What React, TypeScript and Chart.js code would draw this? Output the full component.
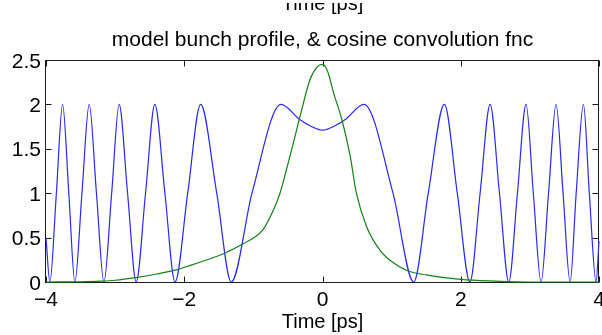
import React, { useEffect, useRef } from "react";
import { Chart, registerables } from "chart.js";

Chart.register(...registerables);

// Cosine convolution function: time [ps] and value
const convTime = [
  -4.0, -3.944, -3.85, -3.76, -3.67, -3.582, -3.48, -3.375, -3.27, -3.162, -3.05, -2.942, -2.82, -2.695,
  -2.56, -2.425, -2.28, -2.133, -1.95, -1.763, -1.53, -1.32, -1.02, -0.6, -0.33, -0.18, 0,
  0.18, 0.33, 0.6, 1.02, 1.32, 1.53, 1.763, 1.95, 2.133, 2.28, 2.425, 2.56, 2.695, 2.82, 2.945,
  3.05, 3.162, 3.27, 3.379, 3.48, 3.582, 3.67, 3.775, 3.86, 3.958, 4.0,
];
const convValue = [
  0.5, 0, 1, 2, 1, 0, 1, 2, 1, 0, 1, 2, 1, 0,
  1, 2, 1, 0, 1, 2, 1, 0, 1, 2, 1.83, 1.76, 1.71,
  1.76, 1.83, 2, 1, 0, 1, 2, 1, 0, 1, 2, 1, 0, 1, 2,
  1, 0, 1, 2, 1, 0, 1, 2, 1, 0, 0.46,
];

// Model bunch profile: time [ps] and value
const bunchTime = [
  -4.0, -3.5, -3.2, -3.0, -2.7, -2.4, -2.1, -1.9, -1.6, -1.4, -1.15, -0.86, -0.71, -0.615,
  -0.52, -0.42, -0.33, -0.18, -0.08, 0, 0.08, 0.16, 0.28, 0.4, 0.49, 0.64, 0.83, 1.0, 1.22,
  1.5, 2.0, 2.5, 3.0, 4.0,
];
const bunchValue = [
  0, 0.003, 0.01, 0.02, 0.05, 0.09, 0.14, 0.19, 0.27, 0.33, 0.43, 0.59, 0.81, 1.0,
  1.27, 1.57, 1.85, 2.28, 2.42, 2.45, 2.36, 2.13, 1.83, 1.42, 1.0, 0.62, 0.36, 0.23, 0.13,
  0.08, 0.03, 0.01, 0, 0,
];

const xTicks = [-4, -2, 0, 2, 4];
const yTicks = [0, 0.5, 1, 1.5, 2, 2.5];

const titleText = "model bunch profile, & cosine convolution fnc";
const xLabelText = "Time [ps]";

const FONT = "'Liberation Sans', Arial, sans-serif";

const fmt = (v: number) => (v < 0 ? "\u2212" + String(-v) : String(v));

const frame = {
  id: "frame",
  beforeDatasetsDraw(chart: any) {
    const { ctx, chartArea: a } = chart;
    const xs = chart.scales.x;
    const ys = chart.scales.y;
    ctx.save();
    ctx.strokeStyle = "#1a1a1a";
    ctx.lineWidth = 1;
    const L = Math.round(a.left) - 0.5;
    const R = Math.round(a.right) - 0.5;
    const T = Math.round(a.top) + 0.5;
    const B = Math.round(a.bottom) + 0.5;
    ctx.strokeRect(L, T, R - L, B - T);
    ctx.beginPath();
    for (const v of xTicks) {
      const px = Math.round(xs.getPixelForValue(v)) + 0.5;
      ctx.moveTo(px, B);
      ctx.lineTo(px, B - 6);
      ctx.moveTo(px, T);
      ctx.lineTo(px, T + 6);
    }
    for (const v of yTicks) {
      const py = Math.round(ys.getPixelForValue(v)) + 0.5;
      ctx.moveTo(L, py);
      ctx.lineTo(L + 6, py);
      ctx.moveTo(R, py);
      ctx.lineTo(R - 6, py);
    }
    ctx.stroke();

    ctx.fillStyle = "#000";
    ctx.font = `21px ${FONT}`;
    ctx.textBaseline = "alphabetic";
    ctx.textAlign = "center";
    for (const v of xTicks) {
      ctx.fillText(fmt(v), xs.getPixelForValue(v), 306);
    }
    ctx.textAlign = "right";
    for (const v of yTicks) {
      ctx.fillText(fmt(v), a.left - 5, ys.getPixelForValue(v) + 7.5);
    }

    const cx = (a.left + a.right) / 2;
    ctx.textAlign = "center";
    ctx.font = `21px ${FONT}`;
    ctx.fillText(titleText, cx, 46);
    ctx.font = `20px ${FONT}`;
    ctx.fillText(xLabelText, cx, 328);

    // axis label of the panel above, cut off by the figure edge
    ctx.save();
    ctx.beginPath();
    ctx.rect(0, 3, chart.width, 20);
    ctx.clip();
    ctx.fillText(xLabelText, cx, 10);
    ctx.restore();

    ctx.restore();
  },
};

export default function App() {
  const ref = useRef<HTMLCanvasElement | null>(null);

  useEffect(() => {
    const canvas = ref.current;
    if (!canvas) return;
    const chart = new Chart(canvas, {
      type: "line",
      data: {
        datasets: [
          {
            label: "bunch profile",
            data: bunchTime.map((t, i) => ({ x: t, y: bunchValue[i] })),
            borderColor: "rgb(20,130,20)",
            borderWidth: 1.2,
            pointRadius: 0,
            cubicInterpolationMode: "monotone",
            clip: false as any,
            order: 0,
          },
          {
            label: "cosine convolution fnc",
            data: convTime.map((t, i) => ({ x: t, y: convValue[i] })),
            borderColor: "rgb(40,40,255)",
            borderWidth: 1.2,
            pointRadius: 0,
            cubicInterpolationMode: "monotone",
            clip: false as any,
            order: 1,
          },
        ],
      },
      options: {
        animation: false,
        responsive: false,
        devicePixelRatio: 1,
        events: [],
        layout: { padding: { top: 60, right: 3, left: 0, bottom: 0 } },
        plugins: { legend: { display: false }, tooltip: { enabled: false }, title: { display: false } },
        scales: {
          x: {
            type: "linear",
            min: -4,
            max: 4,
            grid: { display: false },
            border: { display: false },
            ticks: { display: false, stepSize: 2 },
            afterFit: (s: any) => {
              s.height = 53;
            },
          },
          y: {
            min: 0,
            max: 2.5,
            grid: { display: false },
            border: { display: false },
            ticks: { display: false, stepSize: 0.5 },
            afterFit: (s: any) => {
              s.width = 46;
            },
          },
        },
      },
      plugins: [frame],
    });
    return () => chart.destroy();
  }, []);

  return (
    <div style={{ position: "fixed", left: 0, top: 0, width: 602, height: 335, background: "#fff" }}>
      <canvas ref={ref} width={602} height={335} style={{ display: "block", width: 602, height: 335 }} />
    </div>
  );
}
